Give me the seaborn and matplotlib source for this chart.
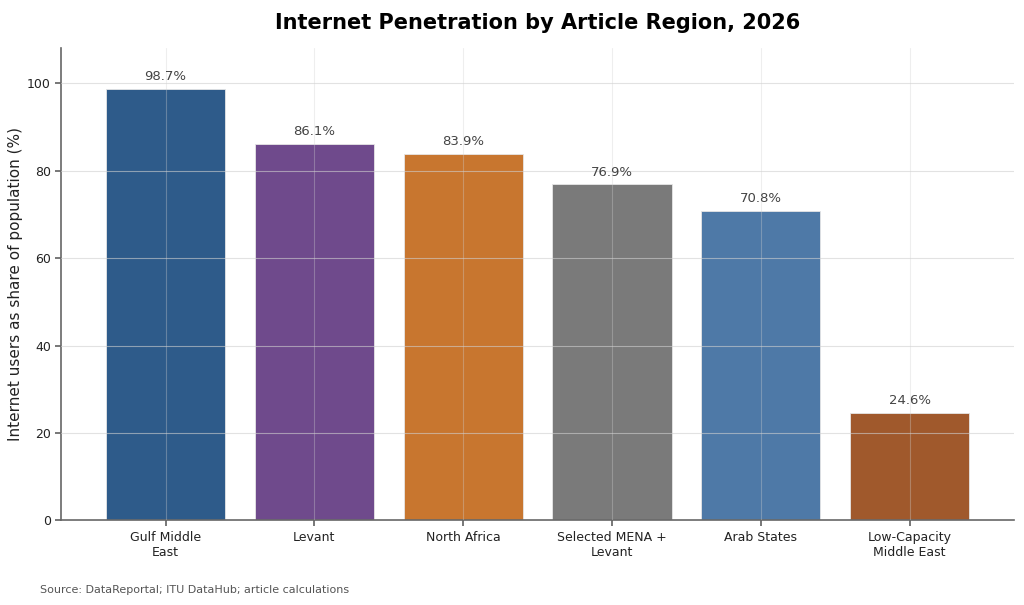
import matplotlib
matplotlib.use("Agg")
import matplotlib.pyplot as plt
import pandas as pd
import seaborn as sns

# Data
REGIONS = [
    "Gulf Middle\nEast",
    "Levant",
    "North Africa",
    "Selected MENA +\nLevant",
    "Arab States",
    "Low-Capacity\nMiddle East",
]
PENETRATION = [98.7, 86.1, 83.9, 76.9, 70.8, 24.6]
BAR_COLORS = ["#2E5B8A", "#6F4A8C", "#C8762F", "#7A7A7A", "#4E79A7", "#A0592C"]

TITLE = "Internet Penetration by Article Region, 2026"
YLABEL = "Internet users as share of population (%)"
SOURCE = "Source: DataReportal; ITU DataHub; article calculations"

df = pd.DataFrame({"region": REGIONS, "value": PENETRATION})

sns.set_theme(style="white")
plt.rcParams["font.family"] = ["DejaVu Sans"]

fig, ax = plt.subplots(figsize=(10.24, 6.05), dpi=100)

sns.barplot(data=df, x="region", y="value", hue="region", palette=BAR_COLORS,
            legend=False, width=0.8, edgecolor="#e6e6e6", linewidth=0.6,
            saturation=1, ax=ax)

for i, v in enumerate(PENETRATION):
    ax.text(i, v + 1.3, f"{v:.1f}%", ha="center", va="bottom",
            fontsize=9.5, color="#444444")

ax.set_xlim(-0.7, 5.7)
ax.set_ylim(0, 108)
ax.set_yticks([0, 20, 40, 60, 80, 100])
ax.set_xlabel("")
ax.set_ylabel(YLABEL, fontsize=11, color="#222222", labelpad=3)
ax.set_title(TITLE, fontsize=15, fontweight="bold", color="black", pad=14)

ax.grid(axis="y", color="#d0d0d0", linewidth=0.8, alpha=0.6)
ax.grid(axis="x", color="#d0d0d0", linewidth=0.8, alpha=0.35)
ax.set_axisbelow(False)
ax.tick_params(axis="both", labelsize=9, colors="#222222", length=4,
               left=True, bottom=True, color="#666666")

sns.despine(ax=ax)
for side in ("left", "bottom"):
    ax.spines[side].set_color("#666666")
    ax.spines[side].set_linewidth(1.2)

fig.subplots_adjust(left=0.06, right=0.99, top=0.92, bottom=0.14)
fig.text(0.039, 0.02, SOURCE, fontsize=8, color="#555555", ha="left")

fig.savefig("out.png", dpi=100)
